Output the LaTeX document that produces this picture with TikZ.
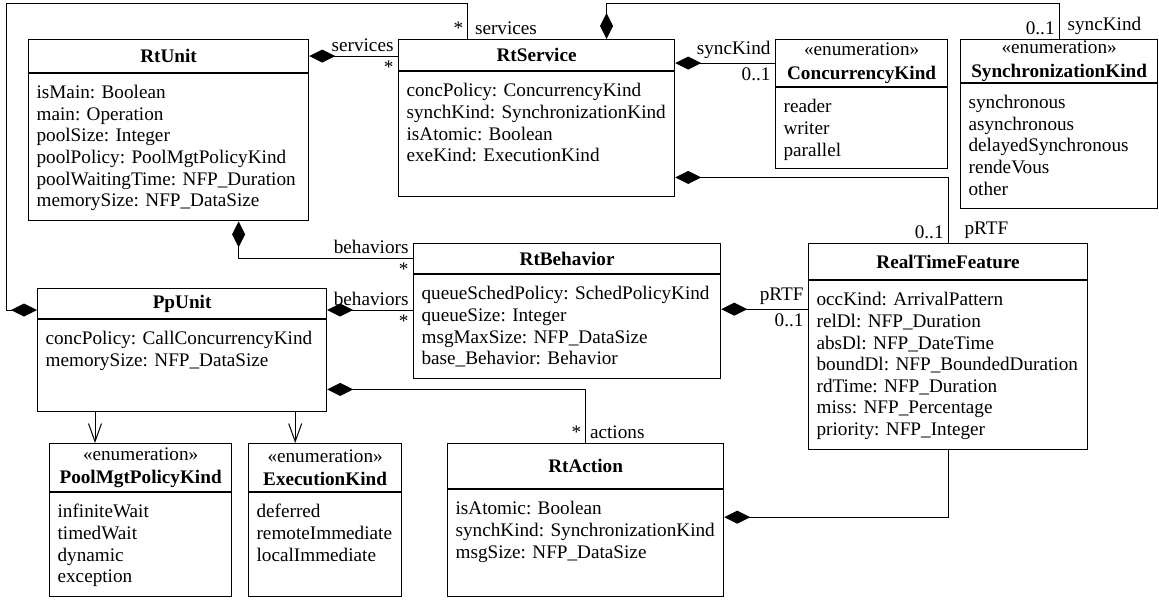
\documentclass[tikz,border=0pt]{standalone}
\usepackage{fontspec}
\setmainfont{Liberation Serif}
\usepackage{tikz}
\usetikzlibrary{arrows.meta}
\usetikzlibrary{positioning}
\usetikzlibrary{calc}

\begin{document}
\begin{tikzpicture}[x=0.5pt,y=-0.5pt,
		txt/.style={font=\fontsize{9.6}{10.8}\selectfont\frenchspacing},
		head/.style={draw,line width=0.6pt,anchor=north west,inner sep=0pt,align=center,font=\fontsize{9.6}{10.8}\selectfont\bfseries},
		body/.style={txt,draw,line width=0.6pt,anchor=north,inner sep=0pt,text height=12.5pt,
			execute at begin node={\leftskip=4pt\rightskip=0pt plus 1fil\hyphenpenalty=10000\relax}},
		role/.style={txt,inner sep=2pt},
		comp/.style={line width=0.5pt,arrows={Diamond[length=13pt,width=6.5pt]-}},
		nav/.style={line width=0.5pt,arrows={-Straight Barb[length=9pt,width=6.5pt]}}]
	\useasboundingbox (0,0) rectangle (1159,599);

	% classes
	\node[head,minimum width=140pt,minimum height=16.5pt] (rtunit) at (28,39) {RtUnit};
	\node[body,text width=140pt,text depth=61pt] (rtunit-b) at (rtunit.south) {isMain: Boolean\\main: Operation\\poolSize: Integer\\poolPolicy: PoolMgtPolicyKind\\poolWaitingTime: NFP\_Duration\\memorySize: NFP\_DataSize};

	\node[head,minimum width=138pt,minimum height=15.5pt] (rtservice) at (398,39) {RtService};
	\node[body,text width=138pt,text depth=50pt] (rtservice-b) at (rtservice.south) {concPolicy: ConcurrencyKind\\synchKind: SynchronizationKind\\isAtomic: Boolean\\exeKind: ExecutionKind};

	\node[head,minimum width=86pt,minimum height=23.5pt] (conckind) at (775,39) {{\mdseries «enumeration»}\\[1pt]ConcurrencyKind};
	\node[body,text width=86pt,text depth=28pt] (conckind-b) at (conckind.south) {reader\\writer\\parallel};

	\node[head,minimum width=98.5pt,minimum height=21.5pt] (synckind) at (960,39) {{\mdseries «enumeration»}\\[1pt]SynchronizationKind};
	\node[body,text width=98.5pt,text depth=50pt] (synckind-b) at (synckind.south) {synchronous\\asynchronous\\delayedSynchronous\\rendeVous\\other};

	\node[head,minimum width=153.5pt,minimum height=15pt] (rtbeh) at (413,243) {RtBehavior};
	\node[body,text width=153.5pt,text depth=39.5pt] (rtbeh-b) at (rtbeh.south) {queueSchedPolicy: SchedPolicyKind\\queueSize: Integer\\msgMaxSize: NFP\_DataSize\\base\_Behavior: Behavior};

	\node[head,minimum width=139.5pt,minimum height=18pt] (rtf) at (808,243) {RealTimeFeature};
	\node[body,text width=139.5pt,text depth=72pt] (rtf-b) at (rtf.south) {occKind: ArrivalPattern\\relDl: NFP\_Duration\\absDl: NFP\_DateTime\\boundDl: NFP\_BoundedDuration\\rdTime: NFP\_Duration\\miss: NFP\_Percentage\\priority: NFP\_Integer};

	\node[head,minimum width=144.5pt,minimum height=15pt] (ppunit) at (37,288) {PpUnit};
	\node[body,text width=144.5pt,text depth=33.5pt] (ppunit-b) at (ppunit.south) {concPolicy: CallConcurrencyKind\\memorySize: NFP\_DataSize};

	\node[head,minimum width=91pt,minimum height=24pt] (poolmgt) at (49,443) {{\mdseries «enumeration»}\\[1pt]PoolMgtPolicyKind};
	\node[body,text width=91pt,text depth=39.5pt] (poolmgt-b) at (poolmgt.south) {infiniteWait\\timedWait\\dynamic\\exception};

	\node[head,minimum width=76.5pt,minimum height=24pt] (execkind) at (248,443) {{\mdseries «enumeration»}\\[1pt]ExecutionKind};
	\node[body,text width=76.5pt,text depth=39.5pt] (execkind-b) at (execkind.south) {deferred\\remoteImmediate\\localImmediate};

	\node[head,minimum width=138pt,minimum height=22.5pt] (rtaction) at (447,443) {RtAction};
	\node[body,text width=138pt,text depth=41pt] (rtaction-b) at (rtaction.south) {isAtomic: Boolean\\synchKind: SynchronizationKind\\msgSize: NFP\_DataSize};

	% associations
	\draw[comp] (rtunit.east) -- (rtunit.east -| rtservice.west)
		node[role,above left] {services} node[role,below left] {*};
	\coordinate (ppserv) at ([yshift=-11pt]ppunit.north west);
	\draw[comp] (ppserv) -- ++(-15.5pt,0) |- ([xshift=-34.5pt,yshift=17.5pt]rtservice.north) -- ([xshift=-34.5pt]rtservice.north)
		node[role,above left] {*} node[role,above right,xshift=1.5pt] {services};
	\draw[comp] (conckind.west -| rtservice.east) -- (conckind.west)
		node[role,above left] {syncKind} node[role,below left] {0..1};
	\draw[comp] ([xshift=35pt]rtservice.north) |- ([yshift=17.5pt]synckind.north) -- (synckind.north)
		node[role,above left] {0..1} node[role,above right,xshift=2pt] {syncKind};
	\draw[comp] ([yshift=10pt]rtservice-b.south east) -| (rtf.north)
		node[role,above left] {0..1} node[role,above right,xshift=6pt] {pRTF};
	\coordinate (behrtf) at ([yshift=-17.5pt]rtbeh-b.north east);
	\draw[comp] (behrtf) -- (behrtf -| rtf.west)
		node[role,above left] {pRTF} node[role,below left] {0..1};
	\draw[comp] ([xshift=35pt]rtunit-b.south) |- (rtbeh.west)
		node[role,above left] {behaviors} node[role,below left] {*};
	\coordinate (ppbeh) at ([yshift=-11pt]ppunit.north east);
	\draw[comp] (ppbeh) -- (ppbeh -| rtbeh.west)
		node[role,above left] {behaviors} node[role,below left] {*};
	\draw[comp] ([yshift=11.5pt]ppunit-b.south east) -| (rtaction.north)
		node[role,above left] {*} node[role,above right] {actions};
	\draw[comp] ([yshift=-14pt]rtaction-b.north east) -| (rtf-b.south);

	% navigable ends
	\coordinate (pppool) at ([xshift=29pt]ppunit-b.south west);
	\draw[nav] (pppool) -- (pppool |- poolmgt.north);
	\coordinate (ppexe) at ([xshift=-16pt]ppunit-b.south east);
	\draw[nav] (ppexe) -- (ppexe |- execkind.north);
\end{tikzpicture}
\end{document}
